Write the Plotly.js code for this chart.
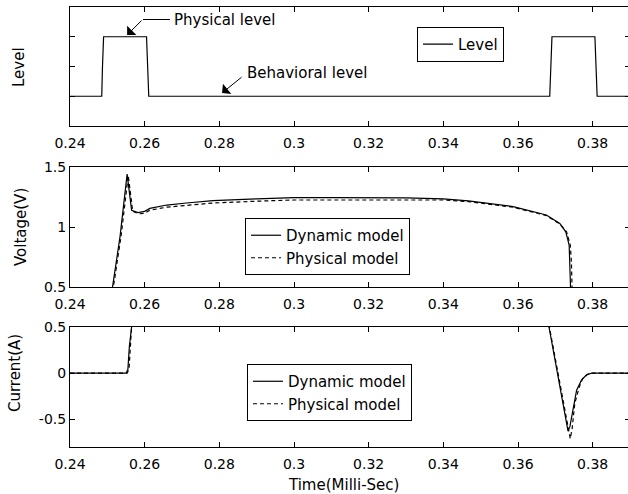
<!DOCTYPE html>
<html>
<head>
<meta charset="utf-8">
<script src="https://cdn.plot.ly/plotly-3.0.1.min.js"></script>
<style>
html,body{margin:0;padding:0;overflow:hidden;background:#fff;}
#chart{width:630px;height:494px;}
</style>
</head>
<body>
<div id="chart"></div>
<script>
// ---- data (time in milli-seconds) ----
const levelTime = [0.24, 0.2485, 0.2487, 0.2490, 0.2605, 0.2608, 0.2611, 0.3685, 0.3688, 0.3691, 0.3806, 0.3809, 0.3812, 0.39];
const levelValue = [1, 1, 2, 3, 3, 2, 1, 1, 2, 3, 3, 2, 1, 1];

const vDynTime = [0.2490, 0.2515, 0.2534, 0.2553, 0.2565, 0.2582, 0.2600, 0.2614, 0.2659, 0.2712, 0.2783, 0.29, 0.30, 0.31, 0.32, 0.33, 0.34, 0.3467, 0.3587, 0.3676, 0.3712, 0.3728, 0.3737, 0.3740, 0.3743, 0.3746, 0.39];
const vDyn = [0, 0.5, 0.92, 1.44, 1.14, 1.12, 1.13, 1.155, 1.183, 1.20, 1.22, 1.235, 1.245, 1.245, 1.245, 1.242, 1.235, 1.217, 1.17, 1.10, 1.03, 0.96, 0.85, 0.71, 0.5, 0, 0];

const vPhysTime = [0.2492, 0.2517, 0.2537, 0.2556, 0.2568, 0.2585, 0.2600, 0.2614, 0.2659, 0.2712, 0.2783, 0.29, 0.30, 0.31, 0.32, 0.33, 0.34, 0.3467, 0.3587, 0.3676, 0.3712, 0.3730, 0.3740, 0.3743, 0.3746, 0.3749, 0.39];
const vPhys = [0, 0.5, 0.93, 1.43, 1.13, 1.11, 1.115, 1.14, 1.165, 1.18, 1.20, 1.215, 1.225, 1.225, 1.225, 1.225, 1.225, 1.212, 1.165, 1.095, 1.025, 0.96, 0.85, 0.71, 0.5, 0, 0];

const iDynTime = [0.24, 0.2550, 0.2555, 0.2559, 0.2565, 0.2570, 0.2600, 0.3660, 0.3683, 0.3734, 0.3739, 0.3744, 0.3748, 0.3757, 0.3770, 0.3783, 0.3797, 0.39];
const iDyn = [0, 0, 0.04, 0.29, 0.5, 0.9, 1.0, 1.0, 0.5, -0.627, -0.58, -0.47, -0.366, -0.185, -0.076, -0.02, 0, 0];

const iPhysTime = [0.24, 0.2553, 0.2558, 0.2562, 0.2567, 0.2571, 0.2600, 0.3660, 0.3684, 0.3740, 0.3745, 0.3752, 0.3764, 0.3773, 0.3787, 0.3800, 0.39];
const iPhys = [0, 0, 0.04, 0.30, 0.5, 0.9, 1.0, 1.0, 0.5, -0.71, -0.60, -0.33, -0.15, -0.06, -0.01, 0, 0];

const xTicks = [0.24, 0.26, 0.28, 0.30, 0.32, 0.34, 0.36, 0.38];
const xTickLabels = ['0.24', '0.26', '0.28', '0.3', '0.32', '0.34', '0.36', '0.38'];
const levelTicks = [1, 2, 3];
const voltTicks = [0.5, 1, 1.5];
const voltTickLabels = ['0.5', '1', '1.5'];
const currTicks = [-0.5, 0, 0.5];
const currTickLabels = ['-0.5', '0', '0.5'];

// ---- styling ----
const FAMILY = '"DejaVu Sans", "Liberation Sans", Arial, sans-serif';
const TICKFONT = {family: FAMILY, size: 14, color: '#000'};
const FONT = {family: FAMILY, size: 15, color: '#000'};
const solid = {color: '#000', width: 1.2};
const dashed = {color: '#000', width: 1.2, dash: '4px,3px'};

const traces = [
  {x: levelTime, y: levelValue, type: 'scatter', mode: 'lines', name: 'Level', line: solid, xaxis: 'x', yaxis: 'y', legend: 'legend'},
  {x: vDynTime, y: vDyn, type: 'scatter', mode: 'lines', name: 'Dynamic model', line: solid, xaxis: 'x2', yaxis: 'y2', legend: 'legend2'},
  {x: vPhysTime, y: vPhys, type: 'scatter', mode: 'lines', name: 'Physical model', line: dashed, xaxis: 'x2', yaxis: 'y2', legend: 'legend2'},
  {x: iDynTime, y: iDyn, type: 'scatter', mode: 'lines', name: 'Dynamic model', line: solid, xaxis: 'x3', yaxis: 'y3', legend: 'legend3'},
  {x: iPhysTime, y: iPhys, type: 'scatter', mode: 'lines', name: 'Physical model', line: dashed, xaxis: 'x3', yaxis: 'y3', legend: 'legend3'}
];

function axisBase(extra) {
  return Object.assign({
    showline: true, linecolor: '#000', linewidth: 1, mirror: 'ticks',
    ticks: 'inside', ticklen: 5, tickcolor: '#000', tickwidth: 1,
    showgrid: false, zeroline: false, tickfont: TICKFONT, fixedrange: true
  }, extra);
}
function xAx(anchor) {
  return axisBase({anchor: anchor, domain: [0, 1], range: [0.24, 0.39], tickmode: 'array', tickvals: xTicks, ticktext: xTickLabels, ticklabelstandoff: 4});
}
function legendBox(x, y) {
  return {x: x, y: y, xanchor: 'left', yanchor: 'top', bordercolor: '#000', borderwidth: 1, bgcolor: '#fff', font: FONT, itemwidth: 30, tracegroupgap: 0};
}

const layout = {
  width: 630, height: 494,
  margin: {l: 70, r: 0, t: 7, b: 47},
  paper_bgcolor: '#fff', plot_bgcolor: '#fff',
  font: FONT,
  showlegend: true,
  xaxis: xAx('y'),
  yaxis: axisBase({anchor: 'x', domain: [0.7295, 1], range: [0, 4], tickmode: 'array', tickvals: levelTicks, showticklabels: false}),
  xaxis2: xAx('y2'),
  yaxis2: axisBase({anchor: 'x2', domain: [0.3636, 0.6364], range: [0.5, 1.5], tickmode: 'array', tickvals: voltTicks, ticktext: voltTickLabels}),
  xaxis3: xAx('y3'),
  yaxis3: axisBase({anchor: 'x3', domain: [0, 0.2727], range: [-0.8, 0.5], tickmode: 'array', tickvals: currTicks, ticktext: currTickLabels}),
  legend: legendBox(0.6196, 0.955),
  legend2: legendBox(0.3125, 0.5205),
  legend3: legendBox(0.316, 0.1886),
  shapes: [
    {type: 'line', xref: 'x', yref: 'y', x0: 0.25956, x1: 0.26679, y0: 3.58, y1: 3.58, line: {color: '#000', width: 1}}
  ],
  annotations: [
    {xref: 'paper', yref: 'paper', x: -0.0911, y: 0.8636, text: 'Level', textangle: -90, showarrow: false, xanchor: 'center', yanchor: 'middle', font: FONT},
    {xref: 'paper', yref: 'paper', x: -0.0875, y: 0.5, text: 'Voltage(V)', textangle: -90, showarrow: false, xanchor: 'center', yanchor: 'middle', font: FONT},
    {xref: 'paper', yref: 'paper', x: -0.0982, y: 0.168, text: 'Current(A)', textangle: -90, showarrow: false, xanchor: 'center', yanchor: 'middle', font: FONT},
    {xref: 'paper', yref: 'paper', x: 0.489, y: -0.0864, text: 'Time(Milli-Sec)', showarrow: false, xanchor: 'center', yanchor: 'middle', font: FONT},
    {xref: 'x', yref: 'y', x: 0.26732, y: 3.563, text: 'Physical level', showarrow: false, xanchor: 'left', yanchor: 'middle', font: FONT},
    {xref: 'x', yref: 'y', x: 0.2553, y: 3.06, text: '', showarrow: true, ax: 16, ay: -16, arrowhead: 1, arrowsize: 2.2, arrowwidth: 1, arrowcolor: '#000', standoff: 0},
    {xref: 'x', yref: 'y', x: 0.28688, y: 1.781, text: 'Behavioral level', showarrow: false, xanchor: 'left', yanchor: 'middle', font: FONT},
    {xref: 'x', yref: 'y', x: 0.28072, y: 1.109, text: '', showarrow: true, ax: 21, ay: -17, arrowhead: 1, arrowsize: 2.2, arrowwidth: 1, arrowcolor: '#000', standoff: 0}
  ]
};

Plotly.newPlot('chart', traces, layout, {staticPlot: true, displayModeBar: false});
</script>
</body>
</html>
